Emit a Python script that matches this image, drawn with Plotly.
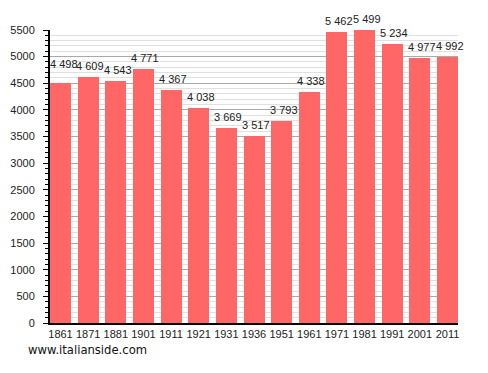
import plotly.graph_objects as go

years = ["1861", "1871", "1881", "1901", "1911", "1921", "1931", "1936",
         "1951", "1961", "1971", "1981", "1991", "2001", "2011"]
population = [4498, 4609, 4543, 4771, 4367, 4038, 3669, 3517,
              3793, 4338, 5462, 5499, 5234, 4977, 4992]

bar_w = 0.76
xs = [i + bar_w / 2 for i in range(len(years))]
labels = [f"{v:,}".replace(",", " ") for v in population]

fig = go.Figure(go.Bar(
    x=xs, y=population, width=bar_w,
    marker=dict(color="#FF6666", line=dict(width=0)),
    hoverinfo="skip",
))

for i, (x, v, t) in enumerate(zip(xs, population, labels)):
    fig.add_annotation(
        x=x, y=v, text=t, showarrow=False,
        xanchor="center", yanchor="bottom",
        xshift=3 if i == 0 else 2, yshift=11 if i == 0 else 3,
        font=dict(family="Liberation Sans, Arial, sans-serif", size=11, color="#222222"),
    )

fig.update_layout(
    width=488, height=373,
    margin=dict(l=50, r=30, t=30, b=50, autoexpand=False),
    paper_bgcolor="white", plot_bgcolor="white",
    showlegend=False, bargap=0,
    font=dict(family="Liberation Sans, Arial, sans-serif", size=11, color="#222222"),
)
fig.update_xaxes(
    range=[0, len(years) - 1 + bar_w], automargin=False,
    tickvals=xs, ticktext=years, ticks="", showgrid=False,
    showline=True, linecolor="black", linewidth=2,
    tickfont=dict(size=11, color="#222222"), zeroline=False,
)
fig.update_yaxes(
    range=[0, 5500], dtick=500, tick0=0, automargin=False,
    showline=True, linecolor="black", linewidth=2,
    ticks="outside", ticklen=5, tickcolor="black", tickwidth=1,
    ticklabelstandoff=6,
    gridcolor="#AAAAAA", gridwidth=1, zeroline=False,
    minor=dict(dtick=100, showgrid=True, gridcolor="#E0E0E0", gridwidth=1,
               ticks="outside", ticklen=3, tickcolor="black"),
    tickfont=dict(size=11, color="#222222"),
)
fig.add_annotation(
    text="www.italianside.com", xref="paper", yref="paper",
    x=-24 / 408, y=-27 / 293, xanchor="left", yanchor="middle",
    showarrow=False, font=dict(family="DejaVu Sans, Verdana, sans-serif", size=11.6, color="#111111"),
)

fig.write_html("out.html")
